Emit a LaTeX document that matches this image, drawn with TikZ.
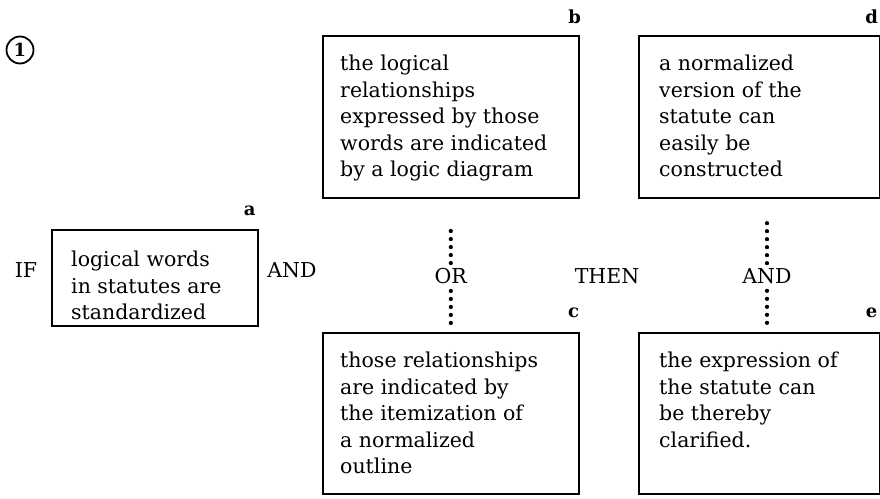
\documentclass[tikz,border=0pt]{standalone}
\usepackage{fontspec}
\setmainfont{DejaVu Serif}
\usetikzlibrary{positioning,calc}

\tikzset{
  box/.style={draw, line width=1.6pt, anchor=north west, inner sep=0pt},
  boxtext/.style={anchor=north west, align=left, inner sep=0pt,
    font=\fontsize{20.5}{26.5}\selectfont},
  tag/.style={font=\fontsize{18}{20}\selectfont\bfseries, inner sep=0pt},
  conn/.style={font=\fontsize{20.5}{22}\selectfont, inner sep=1pt},
  dots/.style={line width=4.2pt, line cap=round, dash pattern=on 0pt off 8pt}
}

\begin{document}
\begin{tikzpicture}[x=1pt, y=-1pt]
  \useasboundingbox (0,0) rectangle (880,498);

  % number
  \node[draw, circle, line width=1.8pt, minimum size=27pt, inner sep=0pt,
        font=\fontsize{18}{18}\selectfont\bfseries] (num) at (20,50) {1};

  % Box a
  \node[box, minimum width=206pt, minimum height=96pt] (a) at (51,229) {};
  \node[boxtext] (atext) at ([xshift=20pt, yshift=-22pt]a.north west)
    {logical words\\in statutes are\\standardized};
  \node[tag] (alab) at ([xshift=-9pt, yshift=18pt]a.north east) {a};

  % Box b
  \node[box, minimum width=256pt, minimum height=162pt] (b) at (322,35) {};
  \node[boxtext] (btext) at ([xshift=18pt, yshift=-20pt]b.north west)
    {the logical\\relationships\\expressed by those\\words are indicated\\by a logic diagram};
  \node[tag] (blab) at ([xshift=-5pt, yshift=18pt]b.north east) {b};

  % Box c
  \node[box, minimum width=256pt, minimum height=161pt] (c) at (322,332) {};
  \node[boxtext] (ctext) at ([xshift=18pt, yshift=-20pt]c.north west)
    {those relationships\\are indicated by\\the itemization of\\a normalized\\outline};
  \node[tag] (clab) at ([xshift=-6pt, yshift=19pt]c.north east) {c};

  % Box d
  \node[box, minimum width=241pt, minimum height=162pt] (d) at (638,35) {};
  \node[boxtext] (dtext) at ([xshift=21pt, yshift=-20pt]d.north west)
    {a normalized\\version of the\\statute can\\easily be\\constructed};
  \node[tag] (dlab) at ([xshift=-9pt, yshift=18pt]d.north east) {d};

  % Box e
  \node[box, minimum width=241pt, minimum height=161pt] (e) at (638,332) {};
  \node[boxtext] (etext) at ([xshift=21pt, yshift=-20pt]e.north west)
    {the expression of\\the statute can\\be thereby\\clarified.};
  \node[tag] (elab) at ([xshift=-9pt, yshift=19pt]e.north east) {e};

  % Connectives
  \node[conn] (if) at (26,270) {IF};
  \node[conn] (and1) at (292,270) {AND};
  \node[conn] (or) at (b.south |- 0,276) {OR};
  \node[conn] (then) at (607,276) {THEN};
  \node[conn] (and2) at (767,276) {AND};

  % Dotted links
  \draw[dots] (or.north) ++(0,-4) -- (b.south |- 0,224);
  \draw[dots] (or.south) ++(0,6) -- (b.south |- 0,326);
  \draw[dots] (and2.north) ++(0,-4) -- (and2.north |- 0,216);
  \draw[dots] (and2.south) ++(0,6) -- (and2.south |- 0,326);
\end{tikzpicture}
\end{document}
